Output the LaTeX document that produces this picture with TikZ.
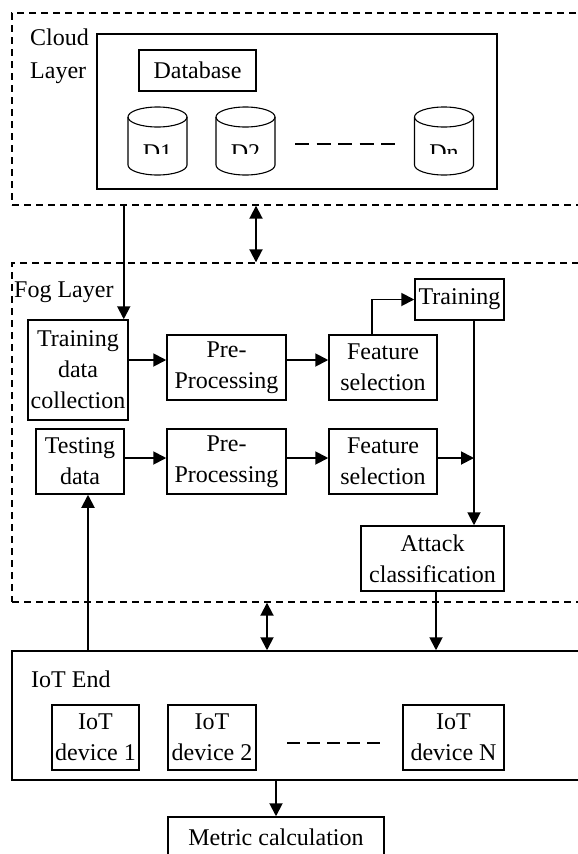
\documentclass[tikz,border=0pt]{standalone}
\usepackage{fontspec}
\setmainfont{Liberation Serif}
\usetikzlibrary{arrows.meta,calc}
\begin{document}
\begin{tikzpicture}[x=1pt,y=-1pt,
  box/.style={draw,line width=1.5pt,inner sep=0pt,align=center,font=\fontsize{24}{31}\selectfont},
  arr/.style={line width=1.9pt,-{Triangle[length=13pt,width=13pt]}},
  darr/.style={line width=1.9pt,{Triangle[length=13pt,width=13pt]}-{Triangle[length=13pt,width=13pt]}},
  layerbox/.style={draw,line width=1.4pt,dash pattern=on 7pt off 5pt,inner sep=0pt},
  lbl/.style={inner sep=0pt,font=\fontsize{24}{31}\selectfont},
  cyl/.style={line width=1.1pt},
]
\useasboundingbox (0,0) rectangle (578,854);
\fill[white] (0,0) rectangle (578,854);
\clip (0,0) rectangle (578,854);

% layers
\node[layerbox,minimum width=588pt,minimum height=192pt] (cloud) at (306,109) {};
\node[layerbox,minimum width=588pt,minimum height=339pt] (fog) at (306,432.5) {};
\node[box,minimum width=588pt,minimum height=129pt] (iot) at (306,715.5) {};

% cloud layer
\node[lbl,anchor=base west] (cl1) at (30,45) {Cloud};
\node[lbl,anchor=base west] (cl2) at (30,78) {Layer};
\node[box,minimum width=400pt,minimum height=155pt] (inner) at (297,111.5) {};
\node[box,minimum width=117pt,minimum height=41pt] (db) at (197.5,70.5) {Database};
\foreach \cx/\lab in {157.5/D1,245.5/D2,444/Dn}{
  \draw[cyl] (\cx-29.5,117) -- (\cx-29.5,165) arc[start angle=180,end angle=360,x radius=29.5pt,y radius=10pt] -- (\cx+29.5,117);
  \draw[cyl] (\cx,117) ellipse[x radius=29.5pt,y radius=10pt];
  \begin{scope}
    \clip (\cx-28,130) rectangle (\cx+28,153);
    \node[lbl,anchor=base] at (\cx,160) {\lab};
  \end{scope}
}
\draw[line width=1.4pt,dash pattern=on 14pt off 7.5pt] (295,144) -- (395,144);

% fog layer
\node[lbl,anchor=base west] (fogl) at (14,297) {Fog Layer};
\node[box,minimum width=100pt,minimum height=100pt] (tdc) at (78,370) {Training\\data\\collection};
\node[box,minimum width=119pt,minimum height=65pt] (pp1) at (226.5,367.5) {Pre-\\Processing};
\node[box,minimum width=108pt,minimum height=65pt] (fs1) at (383,367.5) {Feature\\selection};
\node[box,minimum width=89pt,minimum height=41pt] (train) at (459.5,299.5) {Training};
\node[box,minimum width=88pt,minimum height=65pt] (td) at (80,461.5) {Testing\\data};
\node[box,minimum width=119pt,minimum height=65pt] (pp2) at (226.5,461.5) {Pre-\\Processing};
\node[box,minimum width=108pt,minimum height=65pt] (fs2) at (383,461.5) {Feature\\selection};
\node[box,minimum width=143pt,minimum height=65pt] (attack) at (432.5,558.5) {Attack\\classification};

% IoT end
\node[lbl,anchor=base west] (iotl) at (31,687) {IoT End};
\node[box,minimum width=87pt,minimum height=65pt] (dev1) at (95.5,737.5) {IoT\\device 1};
\node[box,minimum width=88pt,minimum height=65pt] (dev2) at (212,737.5) {IoT\\device 2};
\node[box,minimum width=101pt,minimum height=65pt] (devn) at (453.5,737.5) {IoT\\device N};
\draw[line width=1.4pt,dash pattern=on 13pt off 7pt] (287,743) -- (380,743);
\node[box,minimum width=216pt,minimum height=41pt] (metric) at (276,837.5) {Metric calculation};

% connectors
\draw[arr] ([xshift=-5pt]tdc.north east |- cloud.south) -- ([xshift=-5pt]tdc.north east);
\draw[darr] (256,0 |- cloud.south) -- (256,0 |- fog.north);
\coordinate (r1) at ([yshift=7.5pt]pp1.west);
\draw[arr] (r1 -| tdc.east) -- (r1);
\draw[arr] (r1 -| pp1.east) -- (r1 -| fs1.west);
\coordinate (r2) at ([yshift=3.5pt]pp2.west);
\draw[arr] (r2 -| td.east) -- (r2);
\draw[arr] (r2 -| pp2.east) -- (r2 -| fs2.west);
\draw[arr] ([xshift=-11pt]fs1.north) |- (train.west);
\coordinate (tx) at ([xshift=14.5pt]train.south);
\draw[arr] (tx) -- (tx |- attack.north);
\coordinate (f2) at ([yshift=3.5pt]fs2.east);
\draw[arr] (f2) -- (f2 -| tx);
\coordinate (tdup) at ([xshift=8pt]td.south);
\draw[arr] (tdup |- iot.north) -- (tdup);
\draw[darr] (267,0 |- fog.south) -- (267,0 |- iot.north);
\coordinate (ad) at ([xshift=3.5pt]attack.south);
\draw[arr] (ad) -- (ad |- iot.north);
\draw[arr] (metric.north |- iot.south) -- (metric.north);
\end{tikzpicture}
\end{document}
